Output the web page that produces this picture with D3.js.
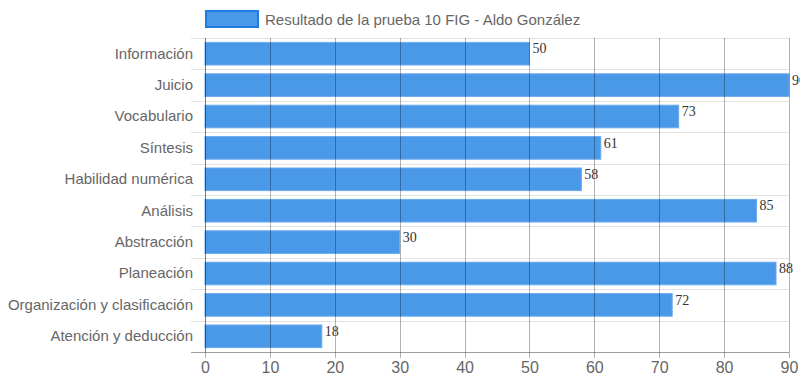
<!DOCTYPE html>
<html>
<head>
<meta charset="utf-8">
<script src="https://cdn.jsdelivr.net/npm/d3@7"></script>
<style>
  body { margin: 0; background: #fff; }
  svg { display: block; }
</style>
</head>
<body>
<div id="root"></div>
<script>
var categories = ["Información", "Juicio", "Vocabulario", "Síntesis", "Habilidad numérica",
  "Análisis", "Abstracción", "Planeación", "Organización y clasificación", "Atención y deducción"];
var scores = [50, 90, 73, 61, 58, 85, 30, 88, 72, 18];
var xTicks = [0, 10, 20, 30, 40, 50, 60, 70, 80, 90];
var seriesName = "Resultado de la prueba 10 FIG - Aldo González";

var W = 800, H = 386;
var margin = {top: 38, right: 11, bottom: 34, left: 205};
var width = W - margin.left - margin.right,
    height = H - margin.top - margin.bottom;

var svg = d3.select("#root").append("svg")
    .attr("width", W)
    .attr("height", H);

// legend
var lg = svg.append("g").attr("transform", "translate(205,10)");
lg.append("rect")
  .attr("x", 1).attr("y", 1).attr("width", 52).attr("height", 16)
  .attr("fill", "#4a98e8").attr("stroke", "#1f7ce0").attr("stroke-width", 2);
lg.append("text")
  .attr("x", 60).attr("y", 14.5)
  .attr("font-family", "Liberation Sans, Arial, sans-serif")
  .attr("font-size", 15).attr("fill", "#666")
  .text(seriesName);

var g = svg.append("g")
    .attr("transform", "translate(" + margin.left + "," + margin.top + ")");

var x = d3.scaleLinear().domain([0, 90]).range([0, width]);
var y = d3.scaleBand().domain(categories).range([0, height]);

// horizontal grid lines (category boundaries)
g.selectAll(".hgrid")
  .data(d3.range(categories.length + 1))
  .enter().append("line")
  .attr("x1", -14).attr("x2", width)
  .attr("y1", function(i) { return Math.round(i * y.step()) + 0.5; })
  .attr("y2", function(i) { return Math.round(i * y.step()) + 0.5; })
  .attr("stroke", "#e3e3e3").attr("stroke-width", 1);

// bars
var barH = y.step() * 0.72;
g.selectAll(".bar")
  .data(categories)
  .enter().append("rect")
  .attr("class", "bar")
  .attr("x", x(0))
  .attr("y", function(d) { return y(d) + (y.step() - barH) / 2; })
  .attr("width", function(d, i) { return x(scores[i]); })
  .attr("height", barH)
  .attr("fill", "#4a98e8")
  .attr("stroke", "#6aaaf0").attr("stroke-width", 1);

// vertical grid lines (drawn over bars)
g.selectAll(".vgrid")
  .data(xTicks)
  .enter().append("line")
  .attr("x1", function(d) { return Math.round(x(d)) + 0.5; })
  .attr("x2", function(d) { return Math.round(x(d)) + 0.5; })
  .attr("y1", 0).attr("y2", height + 6)
  .attr("stroke", "rgba(0,0,0,0.3)").attr("stroke-width", 1);

// axes lines
g.append("line")
  .attr("x1", 0.5).attr("x2", 0.5).attr("y1", 0).attr("y2", height)
  .attr("stroke", "rgba(0,0,0,0.3)");
g.append("line")
  .attr("x1", -14).attr("x2", width).attr("y1", height + 0.5).attr("y2", height + 0.5)
  .attr("stroke", "rgba(0,0,0,0.3)");

// x axis tick labels
var xAxis = g.append("g")
  .attr("transform", "translate(0," + height + ")")
  .call(d3.axisBottom(x).tickValues(xTicks).tickSize(0).tickPadding(10));
xAxis.select(".domain").remove();
xAxis.selectAll("text")
  .attr("font-family", "Liberation Sans, Arial, sans-serif")
  .attr("font-size", 16).attr("fill", "#666");

// y axis labels
var yAxis = g.append("g")
  .call(d3.axisLeft(y).tickSize(0).tickPadding(12));
yAxis.select(".domain").remove();
yAxis.selectAll("text")
  .attr("font-family", "Liberation Sans, Arial, sans-serif")
  .attr("font-size", 15).attr("fill", "#666");

// value labels
g.selectAll(".val")
  .data(categories)
  .enter().append("text")
  .attr("x", function(d, i) { return x(scores[i]) + 3; })
  .attr("y", function(d) { return y(d) + (y.step() - barH) / 2 + 11; })
  .attr("font-family", "Liberation Serif, Times New Roman, serif")
  .attr("font-size", 14).attr("fill", "#333")
  .text(function(d, i) { return scores[i]; });
</script>
</body>
</html>
